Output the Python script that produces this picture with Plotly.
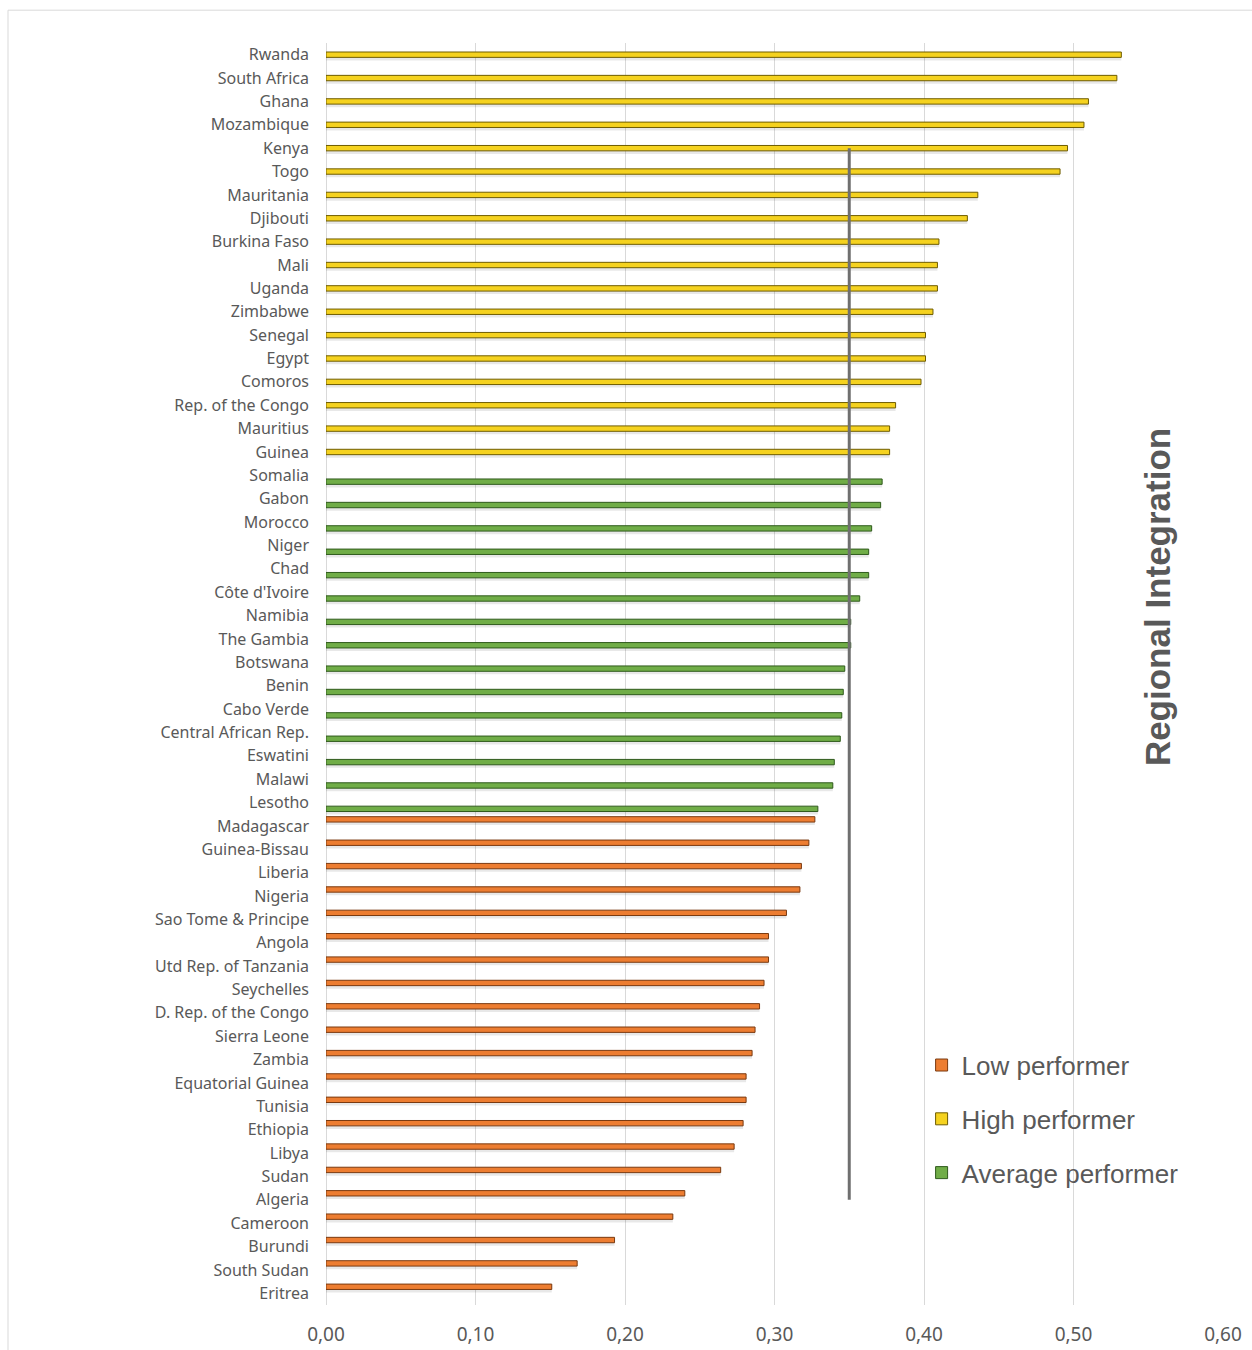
import plotly.graph_objects as go

# ---- data (top to bottom) ----
high_countries = ["Rwanda", "South Africa", "Ghana", "Mozambique", "Kenya", "Togo",
                  "Mauritania", "Djibouti", "Burkina Faso", "Mali", "Uganda", "Zimbabwe",
                  "Senegal", "Egypt", "Comoros", "Rep. of the Congo", "Mauritius", "Guinea"]
high_values = [0.532, 0.529, 0.510, 0.507, 0.496, 0.491, 0.436, 0.429, 0.410, 0.409,
               0.409, 0.406, 0.401, 0.401, 0.398, 0.381, 0.377, 0.377]

avg_countries = ["Somalia", "Gabon", "Morocco", "Niger", "Chad", "Côte d'Ivoire", "Namibia",
                 "The Gambia", "Botswana", "Benin", "Cabo Verde", "Central African Rep.",
                 "Eswatini", "Malawi", "Lesotho"]
avg_values = [0.372, 0.371, 0.365, 0.363, 0.363, 0.357, 0.351, 0.351, 0.347, 0.346,
              0.345, 0.344, 0.340, 0.339, 0.329]

low_countries = ["Madagascar", "Guinea-Bissau", "Liberia", "Nigeria", "Sao Tome & Principe",
                 "Angola", "Utd Rep. of Tanzania", "Seychelles", "D. Rep. of the Congo",
                 "Sierra Leone", "Zambia", "Equatorial Guinea", "Tunisia", "Ethiopia",
                 "Libya", "Sudan", "Algeria", "Cameroon", "Burundi", "South Sudan", "Eritrea"]
low_values = [0.327, 0.323, 0.318, 0.317, 0.308, 0.296, 0.296, 0.293, 0.290, 0.287,
              0.285, 0.281, 0.281, 0.279, 0.273, 0.264, 0.240, 0.232, 0.193, 0.168, 0.151]

all_countries = high_countries + avg_countries + low_countries

avg_line_value = 0.35
avg_line_from = "Kenya"
avg_line_to = "Algeria"

x_ticks = [0.0, 0.1, 0.2, 0.3, 0.4, 0.5, 0.6]

# ---- styles ----
TEXT = "#595959"
GRID = "#D9D9D9"
BAR_W = 0.23
series = [
    # name, countries, values, fill, edge, slot offset (bar edge, category units)
    ("Low performer", low_countries, low_values, "#ED7D31", "#7a3a10", -0.395, "low"),
    ("High performer", high_countries, high_values, "#F5D21F", "#6e5c00", -0.115, "high"),
    ("Average performer", avg_countries, avg_values, "#70AD47", "#2f5a1c", 0.155, "avg"),
]

fig = go.Figure()

# soft drop shadows
for name, cats, vals, fill, edge, off, grp in series:
    fig.add_trace(go.Bar(
        y=cats, x=vals, orientation="h", width=0.30, offset=off + 0.06,
        marker=dict(color="rgba(0,0,0,0.09)", line=dict(width=0)),
        showlegend=False, hoverinfo="skip", legendgroup=grp))

for name, cats, vals, fill, edge, off, grp in series:
    fig.add_trace(go.Bar(
        name=name, y=cats, x=vals, orientation="h", width=BAR_W, offset=off,
        marker=dict(color=fill, line=dict(color=edge, width=1)),
        legendgroup=grp))

fig.add_trace(go.Scatter(
    x=[avg_line_value, avg_line_value], y=[avg_line_from, avg_line_to],
    mode="lines", line=dict(color="#6f6f6f", width=3), showlegend=False,
    hoverinfo="skip"))

fig.update_layout(
    width=1252, height=1350,
    margin=dict(l=326, r=29, t=43, b=45, autoexpand=False),
    paper_bgcolor="white", plot_bgcolor="white",
    barmode="overlay",
    separators=", ",
    font=dict(family="Noto Sans", color=TEXT),
    legend=dict(
        x=0.664, y=0.2087, xanchor="left", yanchor="top",
        font=dict(family="Liberation Sans", size=26, color=TEXT),
        tracegroupgap=17, bgcolor="rgba(0,0,0,0)",
        itemclick=False,
    ),
    showlegend=True,
)

fig.update_xaxes(
    range=[0, 0.6], tickvals=x_ticks, tickformat=".2f",
    showgrid=True, gridcolor=GRID, gridwidth=1,
    zeroline=True, zerolinecolor=GRID, zerolinewidth=1,
    showline=False, ticks="", ticklabelstandoff=16, automargin=False,
    tickfont=dict(family="Noto Sans", size=19, color=TEXT),
)
fig.update_yaxes(
    type="category", categoryorder="array", categoryarray=all_countries,
    autorange="reversed", showgrid=False, zeroline=False, showline=False,
    ticks="", ticklabelstandoff=16, automargin=False,
    tickfont=dict(family="Noto Sans", size=16, color=TEXT),
)

# outer frame
fig.add_shape(type="rect", xref="paper", yref="paper",
              x0=-0.3545, x1=1.2, y0=-0.2, y1=1.026,
              line=dict(color=GRID, width=1), layer="below")

fig.add_annotation(
    text="Regional Integration", xref="paper", yref="paper",
    x=0.9505, y=0.561, textangle=-90, showarrow=False,
    font=dict(family="Liberation Sans", size=35, color=TEXT, weight="bold"),
)

fig.write_html("out.html")
